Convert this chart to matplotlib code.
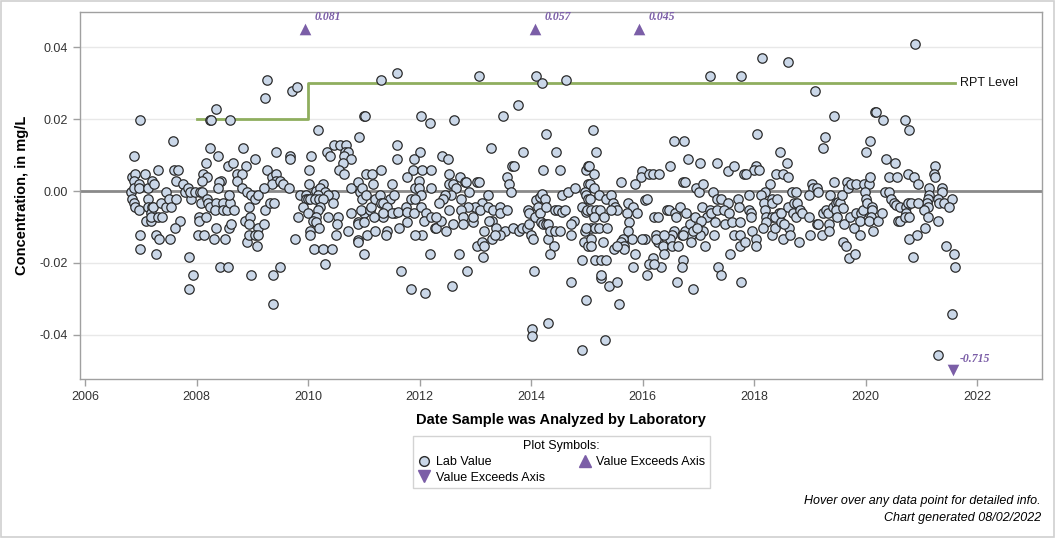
import matplotlib
matplotlib.use("Agg")
import matplotlib.pyplot as plt
from matplotlib import font_manager
from matplotlib.lines import Line2D

avail = {f.name for f in font_manager.fontManager.ttflist}
NARROW = [f for f in ["Liberation Sans Narrow", "Liberation Sans", "DejaVu Sans"] if f in avail]
plt.rcParams['font.family'] = NARROW

# ---------------- data ----------------
lab_year = [
 2009.26,2009.23,2008.34,2006.99,2008.24,2008.26,2008.60,2007.58,2006.88,2008.25,2008.38,2008.84,2009.05,2009.43,
 2008.17,2008.57,2008.66,2008.89,2006.84,2006.90,2007.08,2007.31,2007.60,2007.67,2008.11,2008.19,2008.10,2008.44,
 2008.72,2008.82,2008.72,2009.26,2009.35,2009.43,2009.43,2009.36,2006.88,2006.82,2006.88,2006.97,2006.97,2007.13,
 2007.21,2007.24,2006.84,2006.88,2006.89,2006.97,2007.13,2007.13,2007.21,2007.18,2007.10,2007.19,2007.22,2007.19,
 2007.30,2007.38,2007.37,2007.46,2007.46,2007.50,2007.55,2007.64,2007.64,2007.76,2007.79,2007.85,2007.90,2007.88,
 2007.97,2008.06,2008.09,2008.08,2007.71,2007.62,2007.53,2006.98,2006.99,2007.27,2007.33,2007.27,2007.86,2007.94,
 2007.86,2008.04,2008.04,2008.17,2008.03,2008.14,2008.32,2008.35,2008.51,2008.18,2008.21,2008.24,2008.34,2008.33,
 2008.47,2008.48,2008.55,2008.60,2008.68,2008.58,2008.40,2008.39,2008.59,2008.62,2008.42,2008.57,2008.82,2008.90,
 2008.98,2009.05,2009.11,2008.94,2009.21,2009.23,2009.31,2009.39,2008.87,2008.96,2008.94,2009.11,2009.21,2008.91,
 2008.94,2009.05,2009.08,2009.11,2008.98,2009.37,2009.37,2009.49,
 # 2009.6 - 2012.3
 2009.71,2009.80,2011.30,2011.60,2011.00,2011.02,2012.02,2012.18,2010.18,2010.92,2011.60,2011.60,2012.00,2011.90,
 2011.89,2012.05,2012.21,2010.34,2010.39,2010.47,2010.57,2010.68,2010.66,2010.71,2010.65,2010.77,2010.63,2010.55,
 2010.64,2009.67,2009.67,2010.05,2010.02,2009.49,2009.55,2009.66,2010.02,2010.27,2010.14,2010.21,2010.30,2010.18,
 2010.47,2010.35,2009.85,2009.96,2009.97,2010.00,2010.04,2010.12,2010.19,2010.26,2009.91,2010.21,2010.45,2010.00,
 2010.18,2010.15,2010.09,2010.14,2009.82,2010.36,2010.54,2010.51,2010.72,2010.50,2010.19,2010.03,2010.03,2009.77,
 2010.11,2010.26,2010.42,2010.30,2010.77,2010.77,2010.90,2010.93,2010.97,2010.97,2011.04,2010.90,2010.90,2010.89,
 2010.90,2011.01,2011.05,2011.20,2011.01,2011.01,2010.95,2011.11,2011.13,2011.20,2011.17,2011.03,2011.14,2011.30,
 2011.29,2011.30,2011.47,2011.35,2011.50,2011.54,2011.41,2011.56,2011.50,2011.61,2011.34,2011.18,2011.35,2011.42,
 2011.39,2011.63,2011.75,2011.78,2011.77,2011.90,2011.78,2011.91,2011.85,2011.99,2011.98,2012.02,2011.91,2012.03,
 2012.11,2012.08,2012.05,2011.91,2012.18,2012.20,2012.21,2012.27,2011.66,2011.85,2012.10,
 # 2012.3 - 2015.0
 2013.07,2014.08,2014.20,2014.63,2013.76,2013.50,2012.61,2014.27,2013.28,2013.85,2014.44,2012.40,2012.51,2013.65,
 2013.69,2013.57,2013.61,2013.63,2014.21,2014.51,2012.53,2012.72,2012.81,2012.84,2013.02,2013.07,2012.52,2012.59,
 2012.66,2012.88,2012.57,2012.45,2012.42,2012.35,2012.75,2013.23,2013.11,2012.99,2012.87,2012.75,2012.53,2012.78,
 2012.78,2012.95,2012.96,2012.60,2012.47,2012.30,2012.39,2012.30,2013.08,2013.23,2013.32,2013.44,2013.44,2013.57,
 2013.29,2013.25,2013.16,2013.37,2013.53,2013.44,2013.29,2013.35,2013.02,2013.11,2013.16,2013.14,2012.85,2012.58,
 2012.70,2013.68,2013.78,2013.84,2013.93,2013.97,2013.95,2013.97,2013.99,2014.03,2014.06,2014.09,2014.15,2014.20,
 2014.24,2014.12,2014.15,2014.18,2014.21,2014.27,2014.31,2014.30,2014.27,2014.33,2014.42,2014.51,2014.41,2014.33,
 2014.05,2014.02,2014.02,2014.31,2014.42,2014.48,2014.55,2014.60,2014.55,2014.66,2014.78,2014.71,2014.76,2014.72,
 2014.71,2014.92,2014.99,2014.99,2015.02,2015.02,2014.97,2014.99,2015.02,2014.92,2014.98,2014.97,2014.94,2015.02,
 2014.92,
 # 2015.0 - 2017.8
 2017.20,2017.77,2015.11,2015.16,2016.56,2016.74,2015.04,2015.13,2015.05,2015.13,2015.21,2015.05,2015.00,2015.08,
 2015.16,2015.23,2015.13,2015.31,2015.08,2014.99,2015.14,2015.21,2015.36,2015.08,2015.29,2015.08,2015.14,2015.25,
 2015.35,2015.25,2015.26,2015.39,2015.54,2015.57,2015.32,2015.35,2015.43,2015.47,2015.50,2015.54,2015.43,2015.61,
 2015.74,2015.83,2015.90,2015.71,2015.76,2015.73,2015.80,2015.65,2015.61,2015.67,2015.67,2015.49,2015.54,2015.87,
 2015.83,2015.98,2015.97,2015.86,2016.11,2016.18,2016.29,2016.05,2016.08,2016.20,2016.27,2016.05,2015.98,2016.23,
 2016.27,2016.37,2016.39,2016.23,2016.32,2016.18,2016.12,2016.21,2016.08,2016.49,2016.73,2016.76,2016.44,2016.48,
 2016.58,2016.67,2016.60,2016.78,2016.57,2016.52,2016.49,2016.52,2016.39,2016.64,2016.70,2016.76,2016.85,2016.81,
 2017.03,2016.93,2016.96,2017.01,2017.09,2017.06,2017.20,2017.16,2017.22,2017.26,2017.33,2017.40,2017.33,2017.53,
 2017.63,2017.81,2017.53,2017.33,2017.46,2017.55,2017.29,2017.47,2017.61,2017.74,2017.71,2017.73,2017.05,2017.08,
 2017.03,2016.87,2016.86,2016.73,2016.90,2016.98,2017.12,2017.28,2017.63,2017.74,2017.75,2017.57,2017.35,2017.40,
 2016.73,2016.71,2016.62,2016.91,2017.77,
 # 2017.8 - 2020.6
 2018.14,2018.60,2019.09,2019.43,2020.16,2020.19,2020.31,2018.05,2019.27,2019.23,2020.07,2020.00,2018.46,2018.58,
 2018.03,2018.00,2018.08,2017.85,2018.39,2018.51,2018.60,2018.28,2018.20,2018.13,2017.90,2017.90,2017.95,2017.95,
 2017.83,2017.96,2018.03,2018.03,2018.17,2018.20,2018.31,2018.31,2018.41,2018.44,2018.21,2018.31,2018.37,2018.21,
 2018.15,2018.32,2018.38,2018.48,2018.51,2018.63,2018.65,2018.54,2018.80,2018.48,2018.60,2018.68,2018.74,2018.71,
 2018.77,2018.69,2018.74,2018.82,2018.85,2018.98,2019.04,2019.06,2018.99,2019.13,2019.14,2019.00,2019.12,2019.15,
 2019.21,2019.23,2019.28,2019.32,2019.34,2019.34,2019.36,2019.43,2019.41,2019.46,2019.50,2019.53,2019.46,2019.57,
 2019.48,2019.59,2019.66,2019.68,2019.73,2019.83,2019.61,2019.59,2019.64,2019.70,2019.80,2019.71,2019.79,2019.89,
 2019.83,2019.92,2019.90,2019.95,2019.96,2020.05,2019.99,2020.01,2020.03,2020.11,2020.11,2020.09,2020.06,2020.22,
 2020.13,2020.08,2020.29,2020.37,2020.52,2020.42,2020.56,2020.35,2020.42,2020.46,2020.50,2020.55,2020.58,
 # 2020.6 - 2021.7
 2020.89,2020.70,2020.78,2020.76,2020.87,2020.94,2021.25,2021.22,2021.25,2021.13,2021.13,2021.36,2021.37,2021.29,
 2021.32,2021.40,2021.54,2021.50,2021.11,2021.09,2021.11,2021.05,2021.11,2021.07,2021.29,2020.61,2020.61,2020.73,
 2020.76,2020.81,2020.93,2020.73,2020.70,2020.78,2020.77,2020.92,2020.84,2021.44,2021.58,2021.60,2021.54,2021.30,
]
lab_value = [
 0.0309,0.0258,0.0228,0.0198,0.0198,0.0198,0.0198,0.0138,0.0098,0.0120,0.0098,0.0120,0.0088,0.0108,
 0.0077,0.0070,0.0077,0.0070,0.0038,0.0047,0.0047,0.0058,0.0058,0.0058,0.0047,0.0038,0.0027,0.0027,
 0.0047,0.0047,0.0027,0.0058,0.0038,0.0047,0.0027,0.0019,0.0027,-0.0003,0.0008,0.0019,0.0008,0.0008,
 0.0027,0.0019,-0.0023,-0.0034,-0.0044,-0.0054,-0.0023,-0.0044,-0.0044,-0.0062,-0.0083,-0.0083,-0.0044,-0.0072,
 -0.0072,-0.0072,-0.0034,-0.0003,-0.0044,-0.0023,-0.0044,-0.0023,0.0027,0.0019,-0.0003,0.0008,-0.0023,-0.0003,
 -0.0003,-0.0003,-0.0003,-0.0034,-0.0084,-0.0104,-0.0134,-0.0123,-0.0162,-0.0123,-0.0134,-0.0174,-0.0184,-0.0234,
 -0.0274,-0.0073,-0.0084,-0.0073,-0.0123,-0.0123,-0.0134,-0.0104,-0.0134,-0.0023,-0.0034,-0.0044,-0.0034,-0.0054,
 -0.0034,-0.0054,-0.0054,-0.0034,-0.0054,-0.0011,0.0026,0.0008,-0.0104,-0.0092,-0.0211,-0.0211,0.0008,-0.0003,
 -0.0011,-0.0023,-0.0011,-0.0044,0.0008,-0.0054,-0.0034,-0.0034,-0.0084,-0.0072,-0.0092,-0.0104,-0.0092,-0.0143,
 -0.0123,-0.0123,-0.0153,-0.0123,-0.0234,-0.0234,-0.0315,-0.0211,
 # 2009.6 - 2012.3
 0.0279,0.0289,0.0309,0.0329,0.0209,0.0209,0.0209,0.0189,0.0170,0.0149,0.0127,0.0088,0.0108,0.0088,
 0.0058,0.0058,0.0058,0.0108,0.0098,0.0127,0.0127,0.0127,0.0108,0.0108,0.0098,0.0088,0.0077,0.0058,
 0.0047,0.0098,0.0088,0.0098,0.0058,0.0028,0.0019,0.0008,0.0019,0.0019,0.0001,0.0008,-0.0003,-0.0012,
 -0.0011,-0.0011,-0.0011,-0.0011,-0.0023,-0.0023,-0.0023,-0.0023,-0.0023,-0.0023,-0.0044,-0.0044,-0.0034,-0.0062,
 -0.0053,-0.0073,-0.0083,-0.0086,-0.0073,-0.0073,-0.0073,-0.0093,-0.0111,-0.0123,-0.0104,-0.0111,-0.0123,-0.0134,
 -0.0162,-0.0162,-0.0162,-0.0203,0.0008,-0.0062,0.0026,-0.0002,0.0008,-0.0023,-0.0011,-0.0086,-0.0092,-0.0135,
 -0.0143,-0.0174,-0.0123,-0.0111,-0.0062,-0.0086,-0.0053,-0.0054,-0.0044,-0.0023,0.0019,0.0047,0.0047,0.0058,
 -0.0011,-0.0034,-0.0023,-0.0034,0.0019,-0.0011,-0.0044,-0.0060,-0.0060,-0.0059,-0.0072,-0.0073,-0.0062,-0.0111,
 -0.0123,-0.0104,-0.0044,-0.0059,-0.0086,-0.0060,0.0038,0.0008,-0.0023,0.0029,0.0008,-0.0011,-0.0023,-0.0044,
 -0.0062,-0.0084,-0.0123,-0.0123,-0.0174,0.0008,-0.0073,-0.0104,-0.0222,-0.0274,-0.0285,
 # 2012.3 - 2015.0
 0.0320,0.0320,0.0300,0.0308,0.0239,0.0209,0.0198,0.0159,0.0120,0.0108,0.0108,0.0098,0.0088,0.0070,
 0.0070,0.0040,0.0019,-0.0003,0.0058,0.0058,0.0047,0.0040,0.0026,0.0026,0.0026,0.0026,0.0019,0.0019,
 0.0008,-0.0003,-0.0011,-0.0011,-0.0023,-0.0034,-0.0023,-0.0011,-0.0034,-0.0044,-0.0044,-0.0053,-0.0053,-0.0073,
 -0.0092,-0.0086,-0.0073,-0.0092,-0.0111,-0.0104,-0.0084,-0.0073,-0.0053,-0.0044,-0.0053,-0.0044,-0.0062,-0.0053,
 -0.0084,-0.0084,-0.0111,-0.0104,-0.0111,-0.0123,-0.0134,-0.0123,-0.0153,-0.0143,-0.0153,-0.0184,-0.0222,-0.0265,
 -0.0174,-0.0104,-0.0111,-0.0104,-0.0104,-0.0092,-0.0053,-0.0062,-0.0123,-0.0134,-0.0073,-0.0025,-0.0016,-0.0008,
 -0.0023,-0.0044,-0.0062,-0.0086,-0.0092,-0.0092,-0.0092,-0.0134,-0.0044,-0.0111,-0.0111,-0.0111,-0.0153,-0.0174,
 -0.0222,-0.0385,-0.0404,-0.0366,-0.0053,-0.0053,-0.0059,-0.0053,-0.0011,-0.0002,0.0008,-0.0123,-0.0084,-0.0093,
 -0.0254,-0.0192,-0.0304,0.0058,0.0070,0.0019,-0.0002,-0.0012,-0.0023,-0.0044,-0.0059,-0.0111,-0.0143,-0.0153,
 -0.0443,
 # 2015.0 - 2017.8
 0.0320,0.0320,0.0170,0.0108,0.0139,0.0139,0.0070,0.0047,0.0019,0.0008,-0.0011,-0.0023,-0.0053,-0.0053,
 -0.0053,-0.0053,-0.0073,-0.0073,-0.0104,-0.0104,-0.0104,-0.0104,-0.0104,-0.0134,-0.0143,-0.0153,-0.0192,-0.0192,
 -0.0192,-0.0243,-0.0234,-0.0265,-0.0254,-0.0315,-0.0415,-0.0023,-0.0011,-0.0034,-0.0044,-0.0053,-0.0053,0.0026,
 -0.0034,-0.0044,-0.0062,-0.0062,-0.0086,-0.0111,-0.0134,-0.0134,-0.0143,-0.0153,-0.0162,-0.0162,-0.0153,-0.0174,
 -0.0211,0.0057,0.0038,0.0019,0.0047,0.0047,0.0047,-0.0025,-0.0023,-0.0073,-0.0073,-0.0134,-0.0134,-0.0123,
 -0.0143,-0.0153,-0.0174,-0.0134,-0.0211,-0.0185,-0.0203,-0.0203,-0.0234,0.0070,0.0026,0.0026,-0.0053,-0.0053,
 -0.0062,-0.0044,-0.0073,-0.0062,-0.0111,-0.0123,-0.0134,-0.0153,-0.0123,-0.0153,-0.0123,-0.0111,-0.0092,0.0088,
 0.0077,-0.0073,0.0008,-0.0003,0.0019,-0.0044,-0.0053,-0.0073,-0.0062,-0.0003,-0.0023,-0.0023,0.0077,0.0057,
 0.0070,0.0047,-0.0034,-0.0053,-0.0053,-0.0062,-0.0086,-0.0092,-0.0086,-0.0086,-0.0022,-0.0044,-0.0084,-0.0111,
 -0.0123,-0.0123,-0.0143,-0.0123,-0.0111,-0.0102,-0.0153,-0.0123,-0.0123,-0.0123,-0.0153,-0.0174,-0.0211,-0.0234,
 -0.0192,-0.0211,-0.0254,-0.0274,-0.0254,
 # 2017.8 - 2020.6
 0.0370,0.0359,0.0279,0.0209,0.0219,0.0219,0.0198,0.0159,0.0149,0.0120,0.0139,0.0108,0.0108,0.0077,
 0.0070,0.0058,0.0058,0.0047,0.0047,0.0047,0.0038,0.0019,-0.0003,-0.0011,-0.0011,-0.0053,-0.0062,-0.0073,
 -0.0143,-0.0111,-0.0134,-0.0153,-0.0034,-0.0053,-0.0023,-0.0034,-0.0023,-0.0062,-0.0073,-0.0073,-0.0073,-0.0086,
 -0.0104,-0.0123,-0.0104,-0.0086,-0.0134,-0.0104,-0.0123,-0.0093,-0.0143,-0.0062,-0.0044,-0.0003,-0.0003,-0.0034,
 -0.0034,-0.0062,-0.0072,-0.0053,-0.0062,-0.0073,0.0019,0.0008,-0.0011,0.0008,-0.0003,-0.0123,-0.0092,-0.0092,
 -0.0123,-0.0062,-0.0053,-0.0062,-0.0092,-0.0111,-0.0011,0.0026,-0.0044,-0.0034,-0.0030,-0.0034,-0.0053,-0.0011,
 -0.0073,-0.0048,0.0026,0.0008,0.0019,0.0019,-0.0092,-0.0143,-0.0153,-0.0185,-0.0174,-0.0073,-0.0104,-0.0123,
 -0.0062,-0.0062,-0.0084,-0.0053,0.0019,0.0019,-0.0002,-0.0023,-0.0034,-0.0044,-0.0053,-0.0073,-0.0084,-0.0084,
 -0.0111,0.0038,-0.0062,0.0088,0.0077,0.0038,0.0038,-0.0003,-0.0003,-0.0022,-0.0034,-0.0039,-0.0084,
 # 2020.6 - 2021.7
 0.0410,0.0198,0.0170,0.0047,0.0038,0.0019,0.0070,0.0047,0.0038,0.0008,-0.0011,0.0008,-0.0003,-0.0023,
 -0.0034,-0.0034,-0.0023,-0.0044,-0.0023,-0.0034,-0.0044,-0.0053,-0.0073,-0.0104,-0.0084,-0.0044,-0.0084,-0.0044,
 -0.0034,-0.0034,-0.0034,-0.0062,-0.0073,-0.0073,-0.0134,-0.0123,-0.0183,-0.0153,-0.0174,-0.0211,-0.0343,-0.0455,
]

exceed_up_year = [2009.94, 2014.06, 2015.93]
exceed_up_label = ["0.081", "0.057", "0.045"]
exceed_down_year = [2021.56]
exceed_down_label = ["-0.715"]

rpt_year = [2008.0, 2010.0, 2010.0, 2021.6]
rpt_value = [0.02, 0.02, 0.03, 0.03]

x_ticks = [2006, 2008, 2010, 2012, 2014, 2016, 2018, 2020, 2022]
y_ticks = [-0.04, -0.02, 0.00, 0.02, 0.04]
y_tick_labels = ["-0.04", "-0.02", "0.00", "0.02", "0.04"]

# ---------------- plot ----------------
PURPLE = "#7B5EA7"
FACE = "#CAD7E8"
GREEN = "#8FAE5E"

fig = plt.figure(figsize=(10.56, 5.38), dpi=100)
ax = fig.add_axes([80/1056, 1-379/538, (1042-80)/1056, (379-12)/538])

ax.set_xlim(2005.91, 2023.16)
ax.set_ylim(-0.0523, 0.0498)

for yv in y_ticks:
    if yv != 0:
        ax.axhline(yv, color="#E8E8E8", lw=1.0, zorder=0)
ax.axhline(0.0, color="#8A8A8A", lw=2.0, zorder=1)

ax.plot(rpt_year, rpt_value, color=GREEN, lw=2.0, zorder=2)
ax.text(rpt_year[-1] + 0.09, rpt_value[-1], "RPT Level", fontsize=9, va="center", ha="left",
        family=["Liberation Sans", "DejaVu Sans"], color="#111111")

ax.scatter(lab_year, lab_value, s=46, facecolor=FACE, edgecolor="#2B2B2B", linewidths=0.9, zorder=3)

y_up = 0.0451
y_dn = -0.0497
ax.scatter(exceed_up_year, [y_up]*len(exceed_up_year), marker="^", s=70, color=PURPLE, zorder=4, linewidths=0)
ax.scatter(exceed_down_year, [y_dn]*len(exceed_down_year), marker="v", s=70, color=PURPLE, zorder=4, linewidths=0)
for xv, lab in zip(exceed_up_year, exceed_up_label):
    ax.annotate(lab, (xv, y_up), xytext=(7, 8.5), textcoords="offset points", ha="left", va="center",
                fontsize=8.5, fontweight="bold", fontstyle="italic", color=PURPLE,
                family=["Liberation Serif", "DejaVu Serif"])
for xv, lab in zip(exceed_down_year, exceed_down_label):
    ax.annotate(lab, (xv, y_dn), xytext=(5, 8), textcoords="offset points", ha="left", va="center",
                fontsize=8.5, fontweight="bold", fontstyle="italic", color=PURPLE,
                family=["Liberation Serif", "DejaVu Serif"])

ax.set_xticks(x_ticks)
ax.set_xticklabels([str(t) for t in x_ticks], fontsize=9, color="#333333")
ax.set_yticks(y_ticks)
ax.set_yticklabels(y_tick_labels, fontsize=9, color="#333333")
ax.tick_params(axis="both", direction="out", length=5, color="#A0A0A0", width=1)
for s in ax.spines.values():
    s.set_color("#A0A0A0")
    s.set_linewidth(1.0)

ax.set_xlabel("Date Sample was Analyzed by Laboratory", fontsize=10.5, fontweight="bold", labelpad=7)
ax.set_ylabel("Concentration, in mg/L", fontsize=10.5, fontweight="bold", labelpad=8)

# legend (column-major fill: circle & down-triangle in column 1, up-triangle in column 2)
h_lab = Line2D([], [], marker="o", ls="", markerfacecolor=FACE, markeredgecolor="#2B2B2B", markersize=7)
h_up = Line2D([], [], marker="^", ls="", color=PURPLE, markersize=9)
h_dn = Line2D([], [], marker="v", ls="", color=PURPLE, markersize=9)
handles = [h_lab, h_dn, h_up]
labels = ["Lab Value", "Value Exceeds Axis", "Value Exceeds Axis"]
leg = fig.legend(handles, labels, ncol=2, title="Plot Symbols:", loc="center",
                 bbox_to_anchor=(561/1056, 1-462/538), fontsize=9, title_fontsize=9,
                 frameon=True, fancybox=False, edgecolor="#C8C8C8", handletextpad=0.3,
                 columnspacing=2.6, labelspacing=0.3, borderpad=0.35, handlelength=1.2)
leg.get_frame().set_linewidth(1.0)

fig.text(1041/1056, 1-501/538, "Hover over any data point for detailed info.", ha="right", va="center",
         fontsize=9, fontstyle="italic")
fig.text(1041/1056, 1-518/538, "Chart generated 08/02/2022", ha="right", va="center",
         fontsize=9, fontstyle="italic")

# outer border
fig.patches.append(plt.Rectangle((0.001, 0.002), 0.997, 0.996, transform=fig.transFigure,
                                 fill=False, edgecolor="#D0D0D0", lw=1.2))

fig.savefig("out.png", dpi=100)
